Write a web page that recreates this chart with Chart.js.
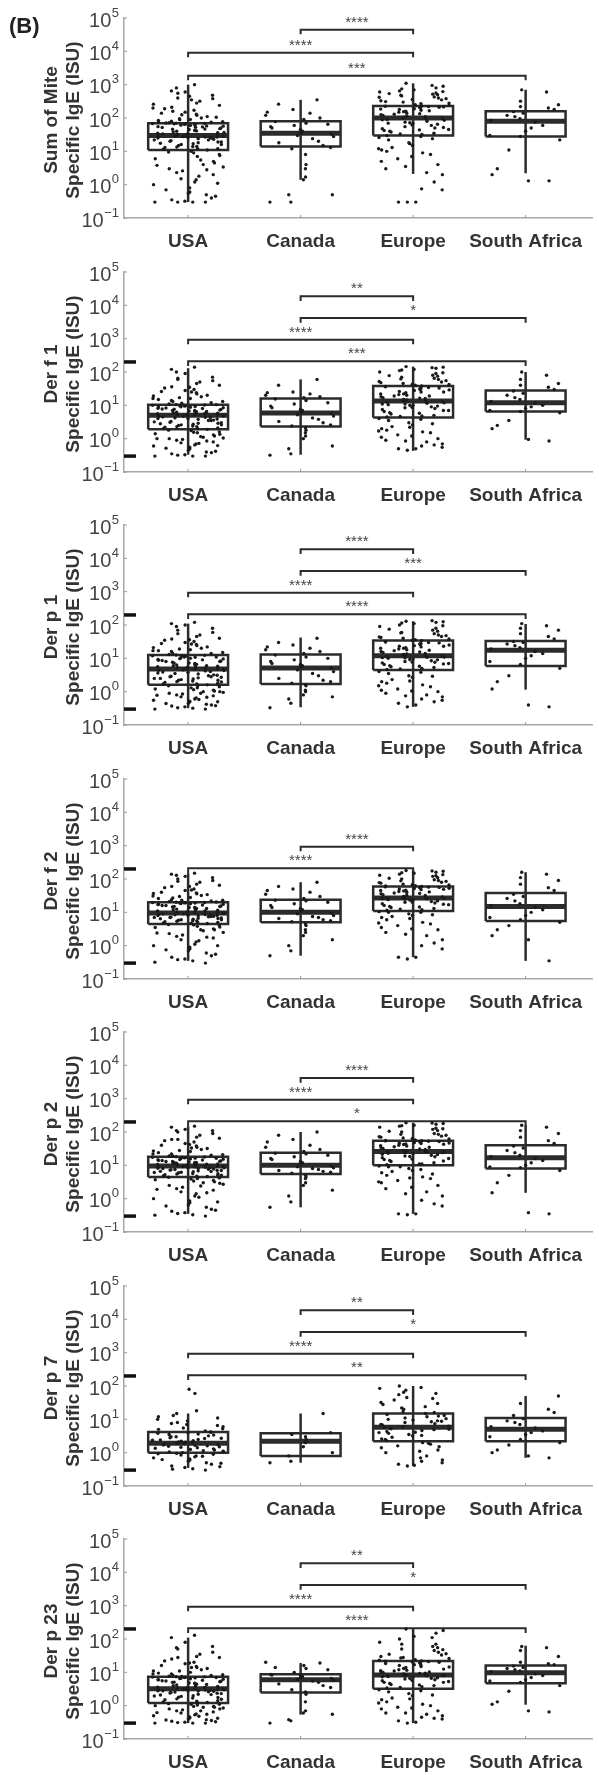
<!DOCTYPE html>
<html>
<head>
<meta charset="utf-8">
<script src="https://cdn.jsdelivr.net/npm/chart.js@4.4.1/dist/chart.umd.min.js"></script>
<style>
html,body{margin:0;padding:0;background:#fff;}
#wrap{width:599px;height:1775px;overflow:hidden;}
canvas{display:block;}
</style>
</head>
<body>
<div id="wrap"></div>
<script>
// ---------------- DATA ----------------
const categories = ['USA', 'Canada', 'Europe', 'South Africa'];
const panelTitles = [
  ['Sum of Mite', 'Specific IgE (ISU)'],
  ['Der f 1', 'Specific IgE (ISU)'],
  ['Der p 1', 'Specific IgE (ISU)'],
  ['Der f 2', 'Specific IgE (ISU)'],
  ['Der p 2', 'Specific IgE (ISU)'],
  ['Der p 7', 'Specific IgE (ISU)'],
  ['Der p 23', 'Specific IgE (ISU)']
];
const tickValues = [0.1, 1, 10, 100, 1000, 10000, 100000];
const tickExponents = ['\u22121', '0', '1', '2', '3', '4', '5'];
const panelLetter = '(B)';

// box statistics per panel: [USA, Canada, Europe, South Africa]
const boxQ1      = [[11, 14, 30, 28], [1.9, 2.3, 4.3, 6.5], [1.6, 1.7, 4.5, 5.9], [4.5, 5, 11, 5.5], [4.5, 5.5, 10, 8], [1, 0.8, 2.2, 2.2], [1.2, 2.5, 3.2, 4.7]];
const boxMedian  = [[30, 35, 100, 80], [5, 5.9, 13.5, 12], [4.8, 5.1, 12, 17.5], [9.5, 10, 27, 15], [9.5, 10, 26, 17], [1.9, 2.2, 5.8, 5], [3.2, 6, 8.3, 9.8]];
const boxQ3      = [[70, 80, 230, 160], [10.5, 16, 38, 28], [12.6, 13, 34, 33], [20, 24, 60, 38], [18, 24, 55, 40], [4.2, 3.8, 15, 11], [7.4, 8.7, 22, 16]];
const whiskerLow = [[0.3, 1.4, 2.1, 2.2], [0.33, 0.33, 0.43, 0.93], [0.32, 0.34, 0.35, 1.15], [0.35, 0.5, 0.45, 0.35], [0.35, 0.55, 0.35, 1.5], [0.35, 0.5, 0.4, 0.7], [0.3, 0.54, 0.3, 1.07]];
const whiskerHigh= [[1000, 350, 1100, 700], [130, 60, 145, 100], [110, 42, 130, 107], [150, 80, 180, 160], [150, 100, 190, 160], [15, 15, 100, 50], [110, 19, 200, 63]];

// significance brackets per panel, bottom to top: [from group, to group, label]
const bracketsSumMite = [[1, 4, '***'], [1, 3, '****'], [2, 3, '****']];
const bracketsDerf1   = [[1, 4, '***'], [1, 3, '****'], [2, 4, '*'], [2, 3, '**']];
const bracketsDerp1   = [[1, 4, '****'], [1, 3, '****'], [2, 4, '***'], [2, 3, '****']];
const bracketsDerf2   = [[1, 3, '****'], [2, 3, '****']];
const bracketsDerp2   = [[1, 4, '*'], [1, 3, '****'], [2, 3, '****']];
const bracketsDerp7   = [[1, 4, '**'], [1, 3, '****'], [2, 4, '*'], [2, 3, '**']];
const bracketsDerp23  = [[1, 4, '****'], [1, 3, '****'], [2, 4, '*'], [2, 3, '**']];

// assay limit markers (ISU)
const assayLimits = [0.3, 200];

// individual values per group [USA, Canada, Europe, South Africa]
const pointsSumMite = [
  [0.3,0.3,0.32,0.35,0.4,0.5,0.55,0.6,0.8,1.0,1.2,1.4,1.5,2,2.3,2.6,3,3.4,4,4.5,5,6,7,8,9.5,
   11,11.5,12,13,13.5,14,15,16,17,17.5,18,19,20,21,22,23,24,25,26,26,27,28,28,29,30,
   31,32,33,35,36,38,40,41,43,45,46,48,50,52,54,55,57,60,61,63,65,66,68,69,70,
   72,75,78,80,85,90,95,100,110,120,130,140,150,170,190,210,240,280,320,380,400,480,600,650,1000,
   0.3,0.3,0.45,0.7,1.1,1.8,2.8,3.8,5.5,7.5,9,10,12,14,16,19,22,25,27,29,33,37,42,47,53,58,62,67,71,76,88,105,125,160,200,260,350,450,550,800],
  [0.3,0.3,0.5,0.5,1.4,1.7,3,4,8, 12,13,15,18,20,24,28,30,33, 36,40,45,50,55,60,65,70,78, 90,100,120,140,150,180,260,350],
  [0.3,0.3,0.7,0.75,2,2.3,3,4,5,6,8,9,10,11,13,15,18,22,26,
   30,32,35,38,40,42,45,48,50,55,60,65,68,70,75,80,85,90,95,
   100,105,110,120,125,130,140,150,155,160,170,180,190,200,205,210,220,225,230,
   250,280,300,330,350,380,400,430,460,500,520,560,600,650,700,800,900,1100,
   0.3,1.2,3.5,7,12,17,24,28,33,44,52,62,72,88,98,115,135,165,185,215,240,270,310,360,420,480,540,620,750,950],
  [1.3,1.3,2,3,11,22, 28,30,40,50,60,75, 85,95,110,120,140,155, 180,200,220,250,320,600,700]
];
const pointsDerf1 = [
  [0.3,0.3,0.33,0.35,0.38,0.4,0.45,0.5,0.55,0.6,0.65,0.7,0.75,0.8,0.9,0.95,1,1.05,1.1,1.2,1.3,1.4,1.5,1.6,1.8,
   1.9,2,2.1,2.2,2.3,2.4,2.5,2.6,2.7,2.8,2.9,3,3.1,3.3,3.5,3.6,3.8,4,4.1,4.3,4.4,4.6,4.7,4.8,5,
   5.1,5.2,5.4,5.6,5.8,6,6.2,6.4,6.6,6.8,7,7.2,7.5,7.8,8,8.2,8.5,8.8,9,9.2,9.5,9.7,10,10.2,10.5,
   11,12,13,14,15,16,17,18,20,22,24,26,28,30,33,36,40,45,50,55,60,70,90,120,140,
   0.3,0.32,0.42,0.52,0.62,0.72,0.85,1,1.15,1.35,1.55,1.75,2,2.3,2.6,2.9,3.2,3.5,3.9,4.2,4.5,4.9,5.3,5.7,6.1,6.5,7,7.6,8.3,9,9.8,10.5,11.5,13,16,19,25,35,65,100],
  [0.32,0.35,0.5,0.6,1.0,1.2,1.5,1.8,2.1, 2.4,2.6,3,3.3,3.8,4.2,4.8,5.2,5.7, 6.2,7,7.5,8.5,9.5,11,12,14,15.5, 17,18,20,22,24,25,40,60],
  [0.45,0.5,0.55,0.6,0.7,0.8,0.9,1.0,1.1,1.3,1.5,1.6,1.8,2.0,2.3,2.6,3,3.5,4,
   4.5,4.8,5,5.5,6,6.5,7,7.5,8,8.5,9,9.5,10,10.5,11,11.5,12,12.5,13,
   14,15,16,17,18,19,20,21,22,24,25,26,28,30,31,33,34,36,38,
   40,42,45,48,50,55,60,65,70,75,80,90,100,110,120,130,140,145,
   0.5,0.65,0.85,1.2,1.7,2.2,2.8,3.8,4.6,5.8,7,8.8,10,11,12.8,14.5,16.5,19,22,25,29,33,37,43,52,62,78,95,115,135],
  [0.85,0.95,2,2.5,3.5,6, 6.5,7,8,9,10,11.5, 13,15,17,20,23,27, 30,35,40,45,60,80,100]
];
const pointsDerp1 = [
  [0.3,0.32,0.35,0.37,0.4,0.42,0.45,0.5,0.52,0.55,0.6,0.65,0.7,0.75,0.8,0.85,0.9,0.95,1,1.05,1.1,1.2,1.3,1.4,1.5,
   1.6,1.7,1.8,1.9,2,2.1,2.2,2.3,2.4,2.5,2.6,2.7,2.8,2.9,3,3.2,3.4,3.6,3.8,4,4.2,4.4,4.5,4.6,4.8,
   5,5.2,5.4,5.6,5.8,6,6.3,6.6,7,7.3,7.6,8,8.3,8.6,9,9.3,9.6,10,10.4,10.8,11,11.5,12,12.3,12.6,
   13,14,15,16,17,18,19,20,22,24,26,28,30,32,35,38,40,45,50,60,70,80,100,110,120,
   0.3,0.33,0.38,0.44,0.5,0.58,0.68,0.78,0.9,1,1.15,1.3,1.5,1.7,1.95,2.2,2.5,2.8,3.1,3.5,3.9,4.3,4.7,5.1,5.5,6,6.5,7.2,8,8.8,9.8,11,12,14,17,21,27,36,55,90],
  [0.33,0.45,0.6,0.7,0.8,1,1.1,1.5,1.6, 1.8,2,2.2,2.5,3,3.5,4,4.5,5, 5.5,6,6.5,7,8,9,10,11,12.5, 14,16,18,20,22,25,30,40],
  [0.35,0.45,0.55,0.6,0.7,0.8,0.9,1,1.1,1.2,1.4,1.6,1.8,2,2.3,2.7,3,3.5,4,
   4.6,5,5.3,5.6,6,6.5,7,7.3,7.6,8,8.5,9,9.5,10,10.3,10.7,11,11.5,12,
   12.5,13,14,15,16,17,18,19,20,21,22,23,24,26,27,29,30,32,34,
   36,38,40,42,45,48,50,55,60,65,70,80,90,100,110,120,125,130,
   0.4,0.5,0.75,1.05,1.5,2.1,2.9,3.8,4.8,5.8,6.8,7.8,9.2,10.5,11.8,13.5,15.5,17.5,20,23,25,28,31,35,44,58,75,95,115,135],
  [0.35,0.4,1.2,2,3,5, 6.5,8,10,12,14,16, 19,21,24,27,30,32, 38,45,55,70,80,95,110]
];
const pointsDerf2 = [
  [0.3,0.35,0.4,0.45,0.5,0.6,0.7,0.8,0.9,1,1.1,1.3,1.5,1.7,1.9,2.1,2.3,2.5,2.8,3,3.2,3.5,3.8,4,4.3,
   4.6,4.8,5,5.2,5.4,5.6,5.8,6,6.2,6.4,6.6,6.8,7,7.2,7.4,7.6,7.8,8,8.2,8.4,8.6,8.8,9,9.2,9.4,
   9.7,10,10.5,11,11.5,12,12.5,13,13.5,14,14.5,15,15.5,16,16.5,17,17.5,18,18.5,19,19.2,19.4,19.6,19.8,20,
   21,22,23,24,26,28,30,32,34,36,38,40,45,50,55,60,65,70,80,90,100,110,120,140,150,
   0.32,0.38,0.55,0.75,1,1.4,1.8,2.4,3,3.6,4.2,4.7,5.1,5.5,6,6.5,7,7.5,8,8.5,9,9.6,10.2,11,12,13,14,15,16,17.5,19,20.5,23,27,31,37,47,60,85,130],
  [0.5,0.7,1,1.5,2,2.5,3,4,4.5, 5.2,5.6,6,6.5,7,7.5,8,9,9.5, 11,12,13,14,16,18,20,22,23, 26,30,35,40,45,50,60,80],
  [0.4,0.45,0.8,1,1.5,2,2.5,3,3.5,4,4.5,5,6,7,7.5,8,9,10,10.5,
   11.5,12,13,14,15,16,17,18,19,20,21,22,23,24,25,25.5,26,26.5,27,
   28,30,32,34,36,38,40,42,44,46,48,50,52,54,55,56,57,58,60,
   63,66,70,75,80,85,90,95,100,110,120,125,130,140,150,160,170,180,
   0.45,1.2,2.2,3.2,4.8,6.5,8.5,10,12.5,14.5,17.5,20.5,23.5,26,29,33,37,41,45,49,53,57,62,68,78,88,105,135,155,175],
  [0.35,1.5,2,3,4,5, 6,7,8,10,12,14, 16,18,22,26,30,35, 45,55,70,90,110,140,160]
];
const pointsDerp2 = [
  [0.3,0.33,0.38,0.42,0.48,0.55,0.65,0.75,0.85,1,1.2,1.4,1.6,1.8,2,2.2,2.5,2.7,3,3.2,3.5,3.7,4,4.2,4.4,
   4.6,4.8,5,5.2,5.5,5.7,6,6.2,6.4,6.6,6.8,7,7.2,7.4,7.6,7.8,8,8.2,8.4,8.6,8.8,9,9.2,9.3,9.5,
   9.7,10,10.3,10.6,11,11.3,11.6,12,12.3,12.6,13,13.3,13.6,14,14.4,14.8,15.2,15.6,16,16.4,16.8,17.2,17.5,17.8,18,
   19,20,21,22,24,26,28,30,32,35,38,40,45,50,55,60,65,70,80,90,100,110,120,140,150,
   0.32,0.36,0.45,0.6,0.8,1.1,1.5,1.9,2.4,2.9,3.4,3.9,4.3,4.7,5.1,5.6,6.1,6.5,7,7.5,8,8.5,9,9.6,10.1,10.8,11.5,12.2,13,14,15,16.2,17.4,19,22,27,33,42,60,110],
  [0.55,0.8,1.2,1.8,2.5,3,4,4.5,5, 5.8,6.2,6.6,7,7.5,8,8.5,9,9.5, 11,12,13,15,16,18,20,22,23, 26,30,35,40,50,60,80,100],
  [0.33,0.35,0.6,0.9,1.2,1.6,2,2.5,3,3.5,4,4.5,5,6,6.5,7,8,9,9.5,
   10.5,11,12,13,14,15,16,17,18,19,20,21,22,23,24,24.5,25,25.5,26,
   27,28,30,32,34,36,38,40,42,44,45,46,48,50,51,52,53,54,55,
   58,62,66,70,75,80,85,90,100,110,120,130,140,150,160,170,180,190,
   0.35,0.7,1.4,2.2,3.2,4.2,5.5,7.5,9,11,13.5,15.5,18.5,21.5,24,27,31,35,39,43,47,52,56,64,72,85,105,125,155,185],
  [0.35,0.38,1.5,3,5,7, 8.5,9,10,12,14,16, 18,20,24,28,33,38, 45,55,70,90,110,140,160]
];
const pointsDerp7 = [
  [0.3,0.33,0.36,0.4,0.45,0.5,0.55,0.6,0.65,0.7,0.75,0.8,0.85,0.9,0.95,
   1,1.05,1.1,1.15,1.2,1.3,1.35,1.4,1.5,1.55,1.6,1.7,1.75,1.8,1.9,
   2,2.1,2.2,2.3,2.4,2.5,2.7,2.8,3,3.2,3.4,3.6,3.8,4,4.2,
   4.5,5,5.5,6,6.5,7,8,9,10,11,13,15,18,60,80,
   0.32,0.38,0.48,0.62,0.78,0.92,1.08,1.25,1.45,1.65,1.85,2.05,2.35,2.65,3,3.5,4.1,5.2,7.5,12],
  [0.5,0.55,0.8,1,1.5,2,2.2,2.5,3,3.5,4,15],
  [0.4,0.45,0.5,0.55,0.6,0.8,1,1.2,1.4,1.6,1.8,2,
   2.3,2.6,2.9,3.2,3.5,3.8,4,4.3,4.6,4.9,5.2,5.5,5.8,
   6.2,6.8,7.4,8,8.5,9,9.5,10,11,12,13,14,15,
   17,20,24,28,32,38,45,55,65,75,90,100,
   0.42,0.7,1.1,1.5,1.9,2.5,3.3,4.1,5,6,7,8.8,10.5,12.5,16,22,30,42,60,85],
  [0.7,0.8,1,1.2,1.7,2, 2.5,3,3.5,4,4.5, 5.5,6,7,8,9,10.5, 13,16,20,30,50]
];
const pointsDerp23 = [
  [0.3,0.3,0.32,0.34,0.36,0.38,0.4,0.43,0.46,0.5,0.53,0.56,0.6,0.65,0.7,0.75,0.8,0.85,0.9,0.9,0.95,1,1.05,1.1,1.15,
   1.25,1.3,1.4,1.5,1.6,1.7,1.8,1.9,2,2.1,2.2,2.3,2.4,2.5,2.6,2.7,2.75,2.8,2.85,2.9,2.95,3,3.05,3.1,3.2,
   3.3,3.4,3.5,3.6,3.8,4,4.2,4.4,4.6,4.8,5,5.2,5.4,5.6,5.8,6,6.2,6.4,6.6,6.8,7,7.1,7.2,7.3,7.4,
   7.6,8,8.5,9,9.5,10,11,12,13,14,15,16,18,20,22,25,28,30,35,40,50,60,80,110,130,
   0.3,0.31,0.33,0.37,0.42,0.48,0.55,0.62,0.7,0.8,0.95,1.1,1.2,1.35,1.55,1.75,1.95,2.15,2.35,2.55,2.8,3,3.25,3.5,3.9,4.3,4.7,5.1,5.5,6,6.5,7,7.5,8.2,9,11,14,19,28,55],
  [0.3,0.35,0.38,0.55,0.6,0.7,1.3,2.2, 2.6,3,3.5,4,4.5,5,5.5,5.8, 6.2,6.5,7,7.5,8,8.3,8.6, 10,12,13,14,16,19,20],
  [0.3,0.35,0.4,0.45,0.5,0.55,0.6,0.7,0.8,0.9,1,1.1,1.3,1.5,1.7,2,2.3,2.6,3,
   3.4,3.7,4,4.3,4.6,5,5.3,5.6,6,6.3,6.6,6.9,7.2,7.5,7.7,7.9,8,8.1,8.2,
   8.6,9,9.5,10,10.5,11,11.5,12,13,14,15,16,17,18,19,20,21,21.5,22,
   24,26,28,30,33,36,40,45,50,55,60,70,80,100,120,150,180,200,
   0.32,0.42,0.6,0.85,1.2,1.6,2.1,2.8,3.5,4.2,5,5.8,6.6,7.4,8,8.4,9.2,10.2,11.2,12.5,14.5,16.5,18.5,20.5,23,27,35,48,70,110],
  [0.65,0.7,1.1,1.3,2.7,4, 5,5.5,6,7,8,9, 10.5,11,12,13,14,15.5, 17,18,20,30,45,55,60]
];

const panelPoints = [pointsSumMite, pointsDerf1, pointsDerp1, pointsDerf2, pointsDerp2, pointsDerp7, pointsDerp23];
const panelBrackets = [bracketsSumMite, bracketsDerf1, bracketsDerp1, bracketsDerf2, bracketsDerp2, bracketsDerp7, bracketsDerp23];
const panelHasLimits = [false, true, true, true, true, true, true];

// ---------------- LAYOUT / STYLE ----------------
const FONT = "'Liberation Sans', Arial, Helvetica, sans-serif";
const PANEL_H = [254, 253, 254, 253, 254, 253, 254];
const PLOT_TOP = 18, PLOT_BOTTOM = 218, PLOT_LEFT = 124, RIGHT_PAD = 7;
const X_MIN = 0.43, X_MAX = 4.59;
const BOX_HALF = 0.355, JITTER = 0.64;
const BRACKET_BASE = [3.27, 2.32, 2.32, 2.32, 2.32, 2.32, 2.32];
const BRACKET_STEP = [0.69, 0.65, 0.65, 0.65, 0.65, 0.65, 0.65];
const BRACKET_DROP = 0.14;
const INK = '#2b2b2b';

function jitter(g, i) {
  const s = Math.sin((i + 1) * 12.9898 + (g + 1) * 78.233) * 43758.5453;
  return (s - Math.floor(s) - 0.5) * JITTER;
}
function seg(points, width, color) {
  return {type: 'line', data: points, showLine: true, borderColor: color || INK, borderWidth: width,
    pointRadius: 0, pointHoverRadius: 0, fill: false, tension: 0, borderCapStyle: 'butt',
    borderJoinStyle: 'miter', clip: false, spanGaps: false};
}

function buildDatasets(p) {
  const ds = [];
  const pts = [];
  panelPoints[p].forEach((vals, g) => vals.forEach((v, i) => pts.push({x: g + 1 + jitter(g, i), y: v})));
  ds.push({type: 'scatter', data: pts, pointRadius: 1.7, pointBackgroundColor: '#1a1a1a',
    pointBorderWidth: 0, pointHoverRadius: 0});
  categories.forEach((c, g) => {
    const x = g + 1, h = BOX_HALF;
    const a = boxQ1[p][g], m = boxMedian[p][g], b = boxQ3[p][g];
    ds.push(seg([{x: x, y: whiskerLow[p][g]}, {x: x, y: whiskerHigh[p][g]}], 2.5));
    ds.push(seg([{x: x - h, y: a}, {x: x + h, y: a}, {x: x + h, y: b}, {x: x - h, y: b}, {x: x - h, y: a}], 2.5));
    ds.push(seg([{x: x - h, y: m}, {x: x + h, y: m}], 5));
  });
  panelBrackets[p].forEach((br, k) => {
    const yv = Math.pow(10, BRACKET_BASE[p] + BRACKET_STEP[p] * k);
    const yd = yv / Math.pow(10, BRACKET_DROP);
    ds.push(seg([{x: br[0], y: yd}, {x: br[0], y: yv}, {x: br[1], y: yv}, {x: br[1], y: yd}], 2));
  });
  return ds;
}

const decorPlugin = {
  id: 'decor',
  afterDraw(chart) {
    const p = chart.options.plugins.decor.panel;
    const ctx = chart.ctx, xs = chart.scales.x, ys = chart.scales.y;
    const area = chart.chartArea;
    ctx.save();
    // y tick labels with superscript exponents
    tickValues.forEach((v, i) => {
      const y = ys.getPixelForValue(v);
      ctx.font = '13px ' + FONT;
      const ew = ctx.measureText(tickExponents[i]).width;
      const xe = area.left - 5 - ew;
      ctx.fillStyle = '#444';
      ctx.textAlign = 'left'; ctx.textBaseline = 'middle';
      ctx.fillText(tickExponents[i], xe, y - 5);
      ctx.font = '20px ' + FONT;
      ctx.textAlign = 'right';
      ctx.fillText('10', xe - 0.5, y + 3);
      ctx.strokeStyle = '#999'; ctx.lineWidth = 1;
      ctx.beginPath(); ctx.moveTo(area.left, y); ctx.lineTo(area.left + 3, y); ctx.stroke();
    });
    // x small ticks
    categories.forEach((c, g) => {
      const x = xs.getPixelForValue(g + 1);
      ctx.strokeStyle = '#999'; ctx.lineWidth = 1;
      ctx.beginPath(); ctx.moveTo(x, area.bottom); ctx.lineTo(x, area.bottom - 3); ctx.stroke();
    });
    // assay limit markers on the y axis
    if (panelHasLimits[p]) {
      ctx.strokeStyle = '#111'; ctx.lineWidth = 3.5;
      assayLimits.forEach(v => {
        const y = ys.getPixelForValue(v);
        ctx.beginPath(); ctx.moveTo(area.left, y); ctx.lineTo(area.left + 12, y); ctx.stroke();
      });
    }
    // y axis title (two lines)
    ctx.save();
    ctx.translate(52, (area.top + area.bottom) / 2 + 2);
    ctx.rotate(-Math.PI / 2);
    ctx.fillStyle = '#333';
    ctx.font = 'bold 19px ' + FONT;
    ctx.textAlign = 'center'; ctx.textBaseline = 'middle';
    ctx.fillText(panelTitles[p][0], 0, 0);
    ctx.fillText(panelTitles[p][1], 0, 22);
    ctx.restore();
    // significance stars
    ctx.fillStyle = '#444';
    ctx.font = '15px ' + FONT;
    ctx.textAlign = 'center'; ctx.textBaseline = 'alphabetic';
    panelBrackets[p].forEach((br, k) => {
      const yv = Math.pow(10, BRACKET_BASE[p] + BRACKET_STEP[p] * k);
      const x = xs.getPixelForValue((br[0] + br[1]) / 2);
      const y = ys.getPixelForValue(yv);
      ctx.fillText(br[2], x, y - 3);
    });
    if (p === 0) {
      ctx.fillStyle = '#222';
      ctx.font = 'bold 22px ' + FONT;
      ctx.textAlign = 'left'; ctx.textBaseline = 'middle';
      ctx.fillText(panelLetter, 9, 27);
    }
    ctx.restore();
  }
};

const wrap = document.getElementById('wrap');
panelTitles.forEach((t, p) => {
  const H = PANEL_H[p];
  const cv = document.createElement('canvas');
  cv.width = 599; cv.height = H;
  cv.style.width = '599px'; cv.style.height = H + 'px';
  wrap.appendChild(cv);
  new Chart(cv.getContext('2d'), {
    type: 'scatter',
    data: {datasets: buildDatasets(p)},
    plugins: [decorPlugin],
    options: {
      responsive: false, animation: false, devicePixelRatio: 1,
      layout: {padding: {top: PLOT_TOP, right: RIGHT_PAD, bottom: 0, left: 0}},
      plugins: {legend: {display: false}, tooltip: {enabled: false}, decor: {panel: p}},
      scales: {
        x: {
          type: 'linear', min: X_MIN, max: X_MAX,
          afterBuildTicks: s => { s.ticks = categories.map((c, i) => ({value: i + 1})); },
          afterFit: s => { s.height = H - PLOT_BOTTOM; },
          grid: {display: false, drawTicks: false},
          border: {display: true, color: '#a8a8a8', width: 1.5},
          ticks: {autoSkip: false, maxRotation: 0, padding: 12, color: '#333',
            font: {family: FONT, size: 19, weight: 'bold'},
            callback: v => categories[Math.round(v) - 1]}
        },
        y: {
          type: 'logarithmic', min: 0.1, max: 100000,
          afterBuildTicks: s => { s.ticks = tickValues.map(v => ({value: v})); },
          afterFit: s => { s.width = PLOT_LEFT; },
          grid: {display: false, drawTicks: false},
          border: {display: true, color: '#a8a8a8', width: 1.5},
          ticks: {display: false}
        }
      }
    }
  });
});
</script>
</body>
</html>
